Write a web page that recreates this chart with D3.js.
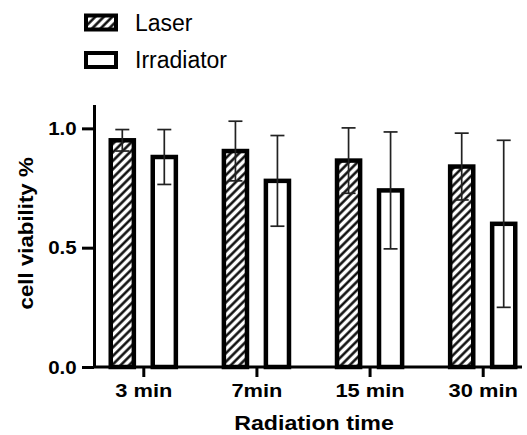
<!DOCTYPE html>
<html>
<head>
<meta charset="utf-8">
<script src="https://cdn.jsdelivr.net/npm/d3@7"></script>
<style>
  body { margin: 0; background: #fff; }
  svg { display: block; font-family: "Liberation Sans", Arial, sans-serif; }
</style>
</head>
<body>
<svg id="chart" width="527" height="435"></svg>
<script>
// data
const categories = ['3 min', '7min', '15 min', '30 min'];
const series = ['Laser', 'Irradiator'];
const laserMean = [0.95, 0.905, 0.865, 0.84];
const laserSd = [0.045, 0.125, 0.137, 0.14];
const irrMean = [0.88, 0.78, 0.74, 0.60];
const irrSd = [0.115, 0.19, 0.245, 0.35];
const yTicks = [0.0, 0.5, 1.0];

const svg = d3.select('#chart');

const axisLeftX = 94, axisRight = 522;
const x = d3.scalePoint().domain(categories).range([143.3, 482.7]);
const x1 = d3.scaleBand().domain(series).range([-42, 42])
  .paddingInner(0.45).paddingOuter(0.225);
const y = d3.scaleLinear().domain([0, 1.1]).range([367, 104.5]);

// hatch pattern for Laser
const defs = svg.append('defs');
defs.append('pattern')
  .attr('id', 'hatch')
  .attr('patternUnits', 'userSpaceOnUse')
  .attr('width', 6).attr('height', 6)
  .attr('patternTransform', 'rotate(45)')
  .append('line')
  .attr('x1', 1.5).attr('y1', 0).attr('x2', 1.5).attr('y2', 6)
  .attr('stroke', '#000').attr('stroke-width', 2.4);

const rows = categories.map((c, i) => ([
  { cat: c, s: 'Laser', v: laserMean[i], e: laserSd[i] },
  { cat: c, s: 'Irradiator', v: irrMean[i], e: irrSd[i] }
])).flat();

const fillOf = s => s === 'Laser' ? 'url(#hatch)' : '#fff';

// bars
svg.append('g').selectAll('rect')
  .data(rows)
  .join('rect')
  .attr('x', d => x(d.cat) + x1(d.s))
  .attr('y', d => y(d.v))
  .attr('width', x1.bandwidth())
  .attr('height', d => y(0) - y(d.v))
  .attr('fill', d => fillOf(d.s))
  .attr('stroke', '#000')
  .attr('stroke-width', 4.5);

// error bars
const eb = svg.append('g').attr('stroke', '#222').attr('stroke-width', 1.7);
const cx = d => x(d.cat) + x1(d.s) + x1.bandwidth() / 2;
eb.selectAll('line.v').data(rows).join('line').attr('class', 'v')
  .attr('x1', cx).attr('x2', cx)
  .attr('y1', d => y(d.v + d.e)).attr('y2', d => y(d.v - d.e));
eb.selectAll('line.t').data(rows).join('line').attr('class', 't')
  .attr('x1', d => cx(d) - 7).attr('x2', d => cx(d) + 7)
  .attr('y1', d => y(d.v + d.e)).attr('y2', d => y(d.v + d.e));
eb.selectAll('line.b').data(rows).join('line').attr('class', 'b')
  .attr('x1', d => cx(d) - 7).attr('x2', d => cx(d) + 7)
  .attr('y1', d => y(d.v - d.e)).attr('y2', d => y(d.v - d.e));

// y axis
const gy = svg.append('g')
  .attr('transform', 'translate(' + axisLeftX + ',0)')
  .call(d3.axisLeft(y).tickValues(yTicks).tickFormat(d3.format('.1f'))
    .tickSize(12).tickSizeOuter(0).tickPadding(4));
gy.selectAll('path, line').attr('stroke', '#000').attr('stroke-width', 3);
gy.selectAll('text').attr('font-size', 19).attr('font-weight', 'bold')
  .attr('fill', '#000').attr('font-family', '"Liberation Sans", Arial, sans-serif')
  .attr('transform', 'scale(1.08,1)');

// x axis
const gx = svg.append('g')
  .attr('transform', 'translate(0,' + y(0) + ')')
  .call(d3.axisBottom(x).tickSize(10).tickSizeOuter(0).tickPadding(7));
gx.select('.domain').attr('d', 'M' + axisLeftX + ',0H' + axisRight);
gx.selectAll('path, line').attr('stroke', '#000').attr('stroke-width', 3);
gx.selectAll('text').attr('font-size', 19).attr('font-weight', 'bold')
  .attr('fill', '#000').attr('font-family', '"Liberation Sans", Arial, sans-serif')
  .attr('transform', 'scale(1.15,1)');

// axis titles
svg.append('text')
  .attr('transform', 'translate(' + ((axisLeftX + axisRight) / 2 + 6) + ',430) scale(1.16,1)')
  .attr('text-anchor', 'middle')
  .attr('font-size', 20).attr('font-weight', 'bold')
  .text('Radiation time');

svg.append('text')
  .attr('transform', 'translate(33,' + y(0.56) + ') rotate(-90) scale(1.06,1)')
  .attr('text-anchor', 'middle')
  .attr('font-size', 21).attr('font-weight', 'bold')
  .text('cell viability %');

// legend
const legend = svg.append('g').selectAll('g')
  .data(series)
  .join('g')
  .attr('transform', (d, i) => 'translate(86,' + (15.5 + i * 37.5) + ')');
legend.append('rect')
  .attr('width', 30).attr('height', 14)
  .attr('fill', d => fillOf(d))
  .attr('stroke', '#000').attr('stroke-width', 4);
legend.append('text')
  .attr('x', 49).attr('y', 15)
  .attr('font-size', 23)
  .text(d => d);
</script>
</body>
</html>
